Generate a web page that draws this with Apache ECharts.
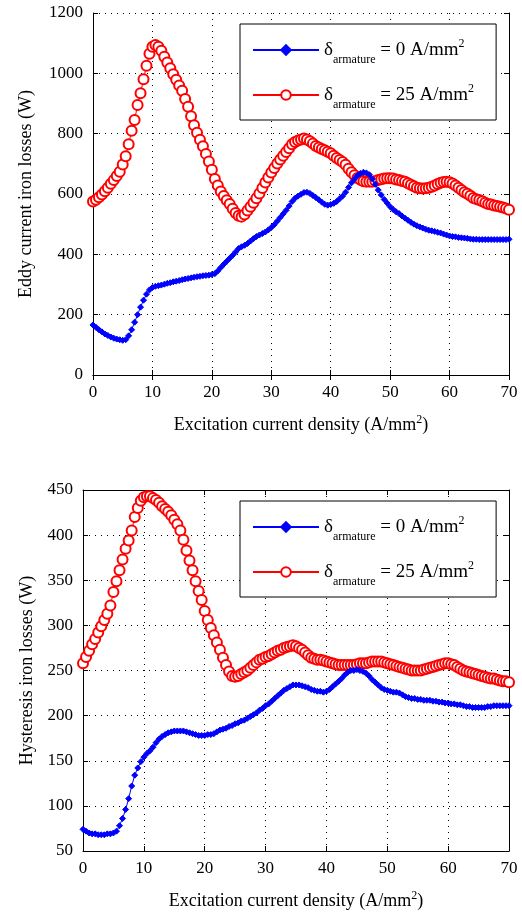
<!DOCTYPE html>
<html>
<head>
<meta charset="utf-8">
<script src="https://cdn.jsdelivr.net/npm/echarts@6/dist/echarts.min.js"></script>
<style>
html,body{margin:0;padding:0;background:#fff;}
#chart{width:522px;height:916px;}
</style>
</head>
<body>
<div id="chart"></div>
<script>
// Excitation current density (A/mm^2)
const excitation = [
 0,0.5,1,1.5,2,2.5,3,3.5,4,4.5,
 5,5.5,6,6.5,7,7.5,8,8.5,9,9.5,
 10,10.5,11,11.5,12,12.5,13,13.5,14,14.5,
 15,15.5,16,16.5,17,17.5,18,18.5,19,19.5,
 20,20.5,21,21.5,22,22.5,23,23.5,24,24.5,
 25,25.5,26,26.5,27,27.5,28,28.5,29,29.5,
 30,30.5,31,31.5,32,32.5,33,33.5,34,34.5,
 35,35.5,36,36.5,37,37.5,38,38.5,39,39.5,
 40,40.5,41,41.5,42,42.5,43,43.5,44,44.5,
 45,45.5,46,46.5,47,47.5,48,48.5,49,49.5,
 50,50.5,51,51.5,52,52.5,53,53.5,54,54.5,
 55,55.5,56,56.5,57,57.5,58,58.5,59,59.5,
 60,60.5,61,61.5,62,62.5,63,63.5,64,64.5,
 65,65.5,66,66.5,67,67.5,68,68.5,69,69.5,
 70
];

// Eddy current iron losses (W), armature 0 A/mm^2
const eddy0 = [
 166,158,150,143,136,131,126,122,119,117,
 115,117,130,150,175,200,225,248,268,282,
 290,294,296,298,301,304,306,309,311,313,
 316,318,320,322,324,326,327,329,330,331,
 333,336,345,356,367,377,387,397,408,419,
 425,430,436,444,452,459,464,469,474,481,
 489,498,510,522,534,546,560,575,586,593,
 599,605,606,602,595,588,581,573,566,563,
 565,569,575,584,593,606,622,637,650,661,
 668,672,670,664,650,632,613,597,582,570,
 558,549,541,535,527,520,513,506,500,495,
 491,487,483,480,478,476,473,471,467,464,
 461,459,458,456,455,454,453,451,450,450,
 449,449,449,449,449,449,449,449,449,449,
 450
];

// Eddy current iron losses (W), armature 25 A/mm^2
const eddy25 = [
 575,581,589,598,609,621,634,646,660,674,
 698,725,765,810,845,895,934,980,1025,1065,
 1088,1094,1088,1075,1055,1036,1017,997,979,960,
 942,915,889,858,828,803,780,758,733,708,
 680,650,628,608,593,579,567,551,537,528,
 525,532,545,558,571,586,602,620,638,655,
 671,686,701,714,727,739,752,765,772,777,
 781,784,781,775,767,759,754,749,745,740,
 735,727,719,713,706,697,684,672,662,653,
 647,642,641,641,641,643,646,649,651,652,
 652,651,648,646,643,641,636,631,626,621,
 619,618,619,621,624,628,633,637,640,641,
 639,635,628,621,613,606,601,594,587,583,
 580,576,571,567,565,562,560,558,555,552,
 548
];

// Hysteresis iron losses (W), armature 0 A/mm^2
const hyst0 = [
 74,72,70,69,69,68,68,68,69,69,
 70,72,78,86,96,108,122,134,142,149,
 154,158,161,165,170,174,177,179,181,182,
 183,183,183,183,182,181,180,179,178,178,
 178,179,179,180,182,184,185,186,188,189,
 191,192,194,195,197,199,201,203,206,208,
 211,213,216,219,222,225,228,230,232,234,
 234,234,233,232,231,229,228,227,227,226,
 227,229,232,235,238,241,245,248,250,250,
 251,250,249,247,244,240,237,234,231,229,
 228,227,226,226,225,223,221,220,219,219,
 218,218,217,217,217,216,216,215,215,214,
 214,213,213,212,212,211,210,210,209,209,
 209,209,209,210,210,211,211,211,211,211,
 211
];

// Hysteresis iron losses (W), armature 25 A/mm^2
const hyst25 = [
 258,265,272,279,285,292,299,306,313,322,
 337,349,361,373,385,394,405,420,430,438,
 442,443,443,441,439,436,432,429,426,422,
 417,412,405,395,383,372,361,349,338,328,
 316,306,297,289,281,273,264,256,249,244,
 243,244,246,248,250,253,256,259,262,263,
 265,266,268,270,272,273,275,276,277,278,
 277,275,273,270,267,264,263,262,262,261,
 260,259,258,257,256,256,256,256,256,256,
 257,258,258,258,259,260,260,260,260,259,
 258,257,256,255,254,253,252,251,250,250,
 250,250,251,252,253,254,255,256,257,258,
 258,257,256,254,252,250,249,248,247,246,
 245,244,243,242,241,241,240,239,238,238,
 237
];

const seriesNames = ['δarmature = 0 A/mm2', 'δarmature = 25 A/mm2'];
const legendTexts = ['0', '25'];
const xTicks = {min: 0, max: 70, interval: 10};
const eddyTicks = {min: 0, max: 1200, interval: 200};
const hystTicks = {min: 50, max: 450, interval: 50};

const FONT = 'Liberation Serif';
const pairs = (ys) => excitation.map((x, i) => [x, ys[i]]);

const chart = echarts.init(document.getElementById('chart'), null, {renderer: 'canvas'});

const grids = [
  {left: 93, right: 13, top: 13, height: 362},
  {left: 83, right: 13, top: 490, height: 361}
];

function mainX(gi) {
  return {
    type: 'value', gridIndex: gi, position: 'bottom',
    min: xTicks.min, max: xTicks.max, interval: xTicks.interval,
    name: '{a|Excitation current density (A/mm}{p|2}{a|)}',
    nameLocation: 'middle', nameGap: 39,
    nameTextStyle: {
      color: '#000', fontFamily: FONT, fontSize: 18,
      rich: {
        a: {fontFamily: FONT, fontSize: 18, color: '#000'},
        p: {fontFamily: FONT, fontSize: 12, color: '#000', padding: [0, 0, 10, 0]}
      }
    },
    axisLine: {show: true, lineStyle: {color: '#000', width: 1}},
    axisTick: {show: true, inside: true, length: 5, lineStyle: {color: '#000'}},
    axisLabel: {color: '#000', fontFamily: FONT, fontSize: 17, margin: 9},
    splitLine: {show: true, lineStyle: {color: '#000', type: [1, 5], width: 1}}
  };
}
function mirrorX(gi) {
  return {
    type: 'value', gridIndex: gi, position: 'top',
    min: xTicks.min, max: xTicks.max, interval: xTicks.interval,
    axisLine: {show: true, lineStyle: {color: '#000', width: 1}},
    axisTick: {show: true, inside: true, length: 5, lineStyle: {color: '#000'}},
    axisLabel: {show: false}, splitLine: {show: false}
  };
}
function mainY(gi, ticks, name, gap) {
  return {
    type: 'value', gridIndex: gi, position: 'left',
    min: ticks.min, max: ticks.max, interval: ticks.interval,
    name: name, nameLocation: 'middle', nameGap: gap,
    nameTextStyle: {color: '#000', fontFamily: FONT, fontSize: 18},
    axisLine: {show: true, onZero: false, lineStyle: {color: '#000', width: 1}},
    axisTick: {show: true, inside: true, length: 5, lineStyle: {color: '#000'}},
    axisLabel: {color: '#000', fontFamily: FONT, fontSize: 17, margin: 10,
      formatter: (v) => String(v)},
    splitLine: {show: true, lineStyle: {color: '#000', type: [1, 5], width: 1}}
  };
}
function mirrorY(gi, ticks) {
  return {
    type: 'value', gridIndex: gi, position: 'right',
    min: ticks.min, max: ticks.max, interval: ticks.interval,
    axisLine: {show: true, onZero: false, lineStyle: {color: '#000', width: 1}},
    axisTick: {show: true, inside: true, length: 5, lineStyle: {color: '#000'}},
    axisLabel: {show: false}, splitLine: {show: false}
  };
}

function legendFor(gi, top) {
  return {
    show: true,
    orient: 'vertical',
    left: 240, top: top,
    data: seriesNames,
    itemWidth: 66, itemHeight: 12,
    itemGap: 17,
    padding: [14, 22, 9, 12],
    borderColor: '#000', borderWidth: 1,
    backgroundColor: '#fff',
    selectedMode: false,
    formatter: function (name) {
      const v = legendTexts[seriesNames.indexOf(name)];
      return '{d|δ}{s|armature}{t| = ' + v + ' A/mm}{p|2}';
    },
    textStyle: {
      color: '#000', fontFamily: FONT, fontSize: 19,
      rich: {
        d: {fontFamily: FONT, fontSize: 19, color: '#000'},
        s: {fontFamily: FONT, fontSize: 12, color: '#000', padding: [20, 0, 0, 0]},
        t: {fontFamily: FONT, fontSize: 19, color: '#000'},
        p: {fontFamily: FONT, fontSize: 12, color: '#000', padding: [0, 0, 12, 0]}
      }
    }
  };
}

function lineSeries(name, xi, yi, data, blue) {
  return {
    name: name, type: 'line', xAxisIndex: xi, yAxisIndex: yi,
    data: data,
    symbol: blue ? 'diamond' : 'emptyCircle',
    symbolSize: blue ? 6 : 10,
    showAllSymbol: true,
    lineStyle: {color: blue ? '#0000ff' : '#ff0000', width: 1},
    itemStyle: {color: blue ? '#0000ff' : '#ff0000', borderColor: blue ? '#0000ff' : '#ff0000', borderWidth: 1},
    emphasis: {disabled: true},
    animation: false,
    z: blue ? 3 : 2
  };
}

chart.setOption({
  backgroundColor: '#fff',
  animation: false,
  grid: grids,
  xAxis: [mainX(0), mirrorX(0), mainX(1), mirrorX(1)],
  yAxis: [
    mainY(0, eddyTicks, 'Eddy current iron losses (W)', 58), mirrorY(0, eddyTicks),
    mainY(1, hystTicks, 'Hysteresis iron losses (W)', 46), mirrorY(1, hystTicks)
  ],
  legend: [legendFor(0, 24), legendFor(1, 501)],
  series: [
    lineSeries(seriesNames[1], 0, 0, pairs(eddy25), false),
    lineSeries(seriesNames[0], 0, 0, pairs(eddy0), true),
    lineSeries(seriesNames[1], 2, 2, pairs(hyst25), false),
    lineSeries(seriesNames[0], 2, 2, pairs(hyst0), true)
  ]
});
</script>
</body>
</html>
